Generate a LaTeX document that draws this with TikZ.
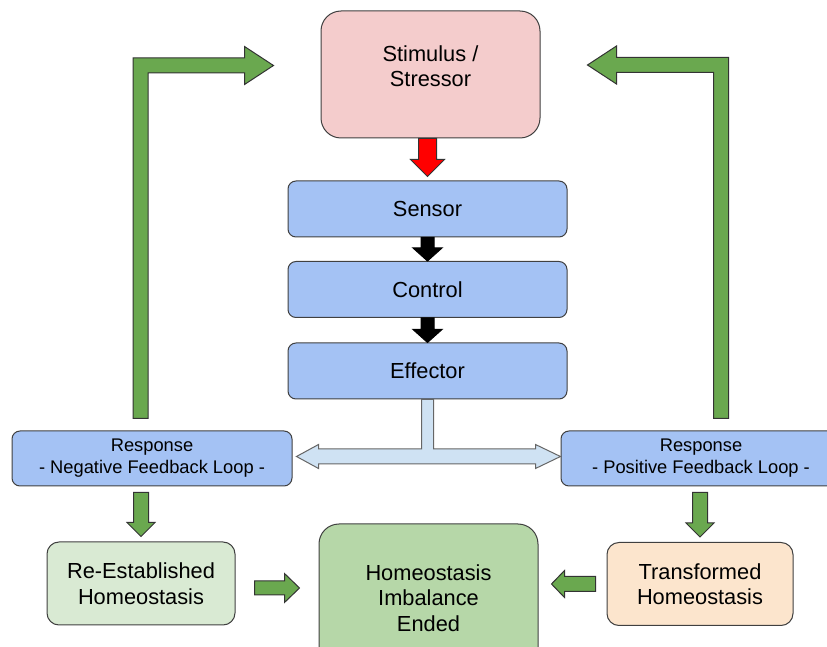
\documentclass[tikz,border=0pt]{standalone}
\usepackage{fontspec}
\setmainfont{Liberation Sans}
\usepackage{xcolor}
\usetikzlibrary{calc}

\definecolor{stimpink}{HTML}{F4CCCC}
\definecolor{boxblue}{HTML}{A4C2F4}
\definecolor{reestgreen}{HTML}{D9EAD3}
\definecolor{homeogreen}{HTML}{B6D7A8}
\definecolor{transforange}{HTML}{FCE5CD}
\definecolor{arrowgreen}{HTML}{6AA84F}
\definecolor{arrowblue}{HTML}{CFE2F3}

\tikzset{
	boxtext/.style={font=\fontsize{10.9}{12.75}\selectfont, align=center},
	box/.style={draw=black!75, line width=0.5pt, fill=boxblue, rounded corners=4pt, inner sep=0pt, boxtext},
	midbox/.style={minimum width=139.5pt, minimum height=28pt},
	respbox/.style={minimum width=140pt, minimum height=27.5pt, font=\fontsize{9.15}{11}\selectfont},
	endbox/.style={rounded corners=6pt, minimum height=41.5pt},
	greenarrow/.style={draw=black!80, fill=arrowgreen, line width=0.5pt},
	blackarrow/.style={draw=black, fill=black, line width=0.5pt},
	redarrow/.style={draw=black!80, fill=red, line width=0.5pt},
	bluearrow/.style={draw=black!60, fill=arrowblue, line width=0.5pt}
}

% block arrow: style, from, to, half shaft, half head, head length
\newcommand{\blockarrow}[6]{%
	\coordinate (ba-h) at ($(#3)!#6!(#2)$);
	\draw[#1] ($(#2)!#4!90:(#3)$) -- ($(ba-h)!#4!-90:(#2)$) -- ($(ba-h)!#5!-90:(#2)$) -- (#3)
		-- ($(ba-h)!#5!90:(#2)$) -- ($(ba-h)!#4!90:(#2)$) -- ($(#2)!#4!-90:(#3)$) -- cycle;
}

\begin{document}
\begin{tikzpicture}[x=0.5pt, y=-0.5pt]
	\useasboundingbox (0,0) rectangle (827,647);
	\clip (0,0) rectangle (827,647);

	\node[name=stim, box, fill=stimpink, rounded corners=10pt, minimum width=109.5pt, minimum height=63.5pt,
	label={[boxtext, yshift=4.25pt]center:Stimulus /\\Stressor}] at (430.5,74.5) {};
	\node[name=sensor, box, midbox] at (427.5,209) {Sensor};
	\node[name=control, box, midbox] at (427.5,289.5) {Control};
	\node[name=effector, box, midbox] at (427.5,371) {Effector};

	\node[name=respN, box, respbox] at (152,458.5) {Response\\- Negative Feedback Loop -};
	\node[name=respP, box, respbox] at (701,458.5) {Response\\- Positive Feedback Loop -};

	\node[name=reest, box, endbox, fill=reestgreen, minimum width=94pt] at (141,583.5) {Re-Established\\Homeostasis};
	\node[name=homeo, box, fill=homeogreen, rounded corners=10pt, minimum width=109.5pt, minimum height=74pt]
	at (428.5,598) {Homeostasis\\Imbalance\\Ended};
	\node[name=transf, box, endbox, fill=transforange, minimum width=93pt] at (700,584) {Transformed\\Homeostasis};

	% stimulus down the chain
	\coordinate (red-a) at (stim.south -| sensor.north);
	\coordinate (red-b) at ($(sensor.north)+(0,2pt)$);
	\blockarrow{redarrow}{red-a}{red-b}{4.5pt}{8.5pt}{8.5pt}
	\blockarrow{blackarrow}{sensor.south}{control.north}{3.25pt}{7.25pt}{6.5pt}
	\blockarrow{blackarrow}{control.south}{effector.north}{3.25pt}{7.25pt}{6.5pt}

	% effector splits to both responses
	\draw[bluearrow] let \p1=(effector.south), \p2=(respN.east), \p3=(respP.west) in
	(\x1-3pt,\y1) -- (\x1-3pt,\y2+4.75pt) -- (\x2+13pt,\y2+4.75pt) -- (\x2+13pt,\y2+7pt) -- (\x2+2pt,\y2+1pt)
	-- (\x2+13pt,\y2-5pt) -- (\x2+13pt,\y2-2.75pt) -- (\x3-12.5pt,\y2-2.75pt) -- (\x3-12.5pt,\y2-5pt)
	-- (\x3,\y2+1pt) -- (\x3-12.5pt,\y2+7pt) -- (\x3-12.5pt,\y2+4.75pt) -- (\x1+3pt,\y2+4.75pt) -- (\x1+3pt,\y1) -- cycle;

	% feedback loops back to the stimulus
	\coordinate (negloop-a) at ($(respN.north)+(-5.75pt,6pt)$);
	\coordinate (negloop-b) at ($(stim.west)+(-23.5pt,4.5pt)$);
	\draw[greenarrow] let \p1=(negloop-a), \p2=(negloop-b) in
	(\x1-3.75pt,\y1) -- (\x1-3.75pt,\y2+3.75pt) -- (\x2-14.5pt,\y2+3.75pt) -- (\x2-14.5pt,\y2+9.5pt) -- (\x2,\y2)
	-- (\x2-14.5pt,\y2-9.5pt) -- (\x2-14.5pt,\y2-3.75pt) -- (\x1+3.75pt,\y2-3.75pt) -- (\x1+3.75pt,\y1) -- cycle;
	\coordinate (posloop-a) at ($(respP.north)+(10pt,6pt)$);
	\coordinate (posloop-b) at ($(stim.east)+(23.5pt,4.75pt)$);
	\draw[greenarrow] let \p1=(posloop-a), \p2=(posloop-b) in
	(\x1+3.75pt,\y1) -- (\x1+3.75pt,\y2+3.75pt) -- (\x2+14.5pt,\y2+3.75pt) -- (\x2+14.5pt,\y2+9.5pt) -- (\x2,\y2)
	-- (\x2+14.5pt,\y2-9.5pt) -- (\x2+14.5pt,\y2-3.75pt) -- (\x1-3.75pt,\y2-3.75pt) -- (\x1-3.75pt,\y1) -- cycle;

	% responses down to outcomes
	\coordinate (negdown-a) at ($(respN.south -| reest.north)+(0,-3pt)$);
	\coordinate (negdown-b) at ($(reest.north)+(0,2.5pt)$);
	\blockarrow{greenarrow}{negdown-a}{negdown-b}{3.75pt}{7pt}{7pt}
	\coordinate (posdown-a) at ($(respP.south -| transf.north)+(0,-3pt)$);
	\coordinate (posdown-b) at ($(transf.north)+(0,2.5pt)$);
	\blockarrow{greenarrow}{posdown-a}{posdown-b}{3.75pt}{7pt}{7pt}

	% outcomes into the end state
	\coordinate (reest-a) at ($(reest.east)+(9.5pt,-2.25pt)$);
	\coordinate (reest-b) at ($(reest.east -| homeo.west)+(-9.5pt,-2.25pt)$);
	\blockarrow{greenarrow}{reest-a}{reest-b}{3.5pt}{7.25pt}{7.5pt}
	\coordinate (transf-a) at ($(transf.west)+(-5.5pt,0)$);
	\coordinate (transf-b) at ($(transf.west -| homeo.east)+(6.5pt,0)$);
	\blockarrow{greenarrow}{transf-a}{transf-b}{3.75pt}{6.75pt}{6.5pt}
\end{tikzpicture}
\end{document}
